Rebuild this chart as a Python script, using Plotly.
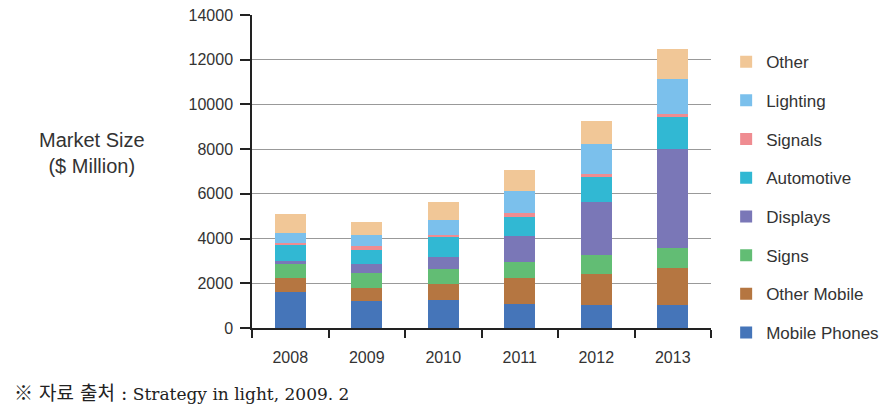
import plotly.graph_objects as go

# years on the x axis
years = ["2008", "2009", "2010", "2011", "2012", "2013"]

# market size per segment, $ million
mobile_phones = [1610, 1210, 1250, 1070, 1030, 1030]
other_mobile = [625, 580, 715, 1160, 1385, 1655]
signs = [625, 670, 670, 715, 850, 895]
displays = [135, 400, 535, 1160, 2370, 4425]
automotive = [715, 640, 880, 850, 1120, 1430]
signals = [90, 165, 90, 180, 135, 150]
lighting = [445, 490, 685, 985, 1340, 1550]
other = [850, 580, 805, 940, 1030, 1340]

series = [
    ("Mobile Phones", mobile_phones, "#4575b9"),
    ("Other Mobile", other_mobile, "#b57641"),
    ("Signs", signs, "#62bd74"),
    ("Displays", displays, "#7a77b7"),
    ("Automotive", automotive, "#31b8d3"),
    ("Signals", signals, "#ef8c91"),
    ("Lighting", lighting, "#7bc0ec"),
    ("Other", other, "#f1c797"),
]

fig = go.Figure()
for i, (name, vals, color) in enumerate(series):
    fig.add_trace(go.Bar(
        x=years, y=vals, name=name, legendgroup=name,
        legendrank=1000 - i,  # top of stack first in legend
        marker=dict(color=color, line=dict(width=0)),
    ))

fig.update_layout(
    barmode="stack",
    bargap=0.595,
    width=890, height=415,
    margin=dict(l=252, r=179, t=15, b=87, autoexpand=False),
    paper_bgcolor="white", plot_bgcolor="white",
    font=dict(family="Liberation Sans, Arial, sans-serif", color="#333333"),
    showlegend=True,
    legend=dict(
        traceorder="grouped",
        tracegroupgap=13.6,
        x=1.033, xanchor="left",
        y=0.907, yanchor="top",
        font=dict(family="Liberation Sans, Arial, sans-serif", size=17, color="#333333"),
        bgcolor="rgba(0,0,0,0)",
    ),
)

fig.update_xaxes(
    type="category",
    showline=True, linecolor="#222222", linewidth=1.5,
    ticks="outside", tickson="boundaries", ticklen=8, tickcolor="#222222", tickwidth=1.5,
    ticklabelstandoff=14,
    tickfont=dict(size=16, color="#333333"),
    showgrid=False, mirror=False,
)

fig.update_yaxes(
    range=[0, 14000], dtick=2000, tickformat="d",
    showline=True, linecolor="#222222", linewidth=1.5,
    ticks="outside", ticklen=10, tickcolor="#222222", tickwidth=1.5,
    ticklabelstandoff=4,
    tickfont=dict(size=16, color="#333333"),
    showgrid=True, gridcolor="#999999", gridwidth=1.2,
    zeroline=False,
)

fig.add_annotation(
    text="Market Size<br>($ Million)",
    xref="paper", yref="paper",
    x=(92 - 252) / 459, y=(328 - 153) / 313,
    xanchor="center", yanchor="middle",
    showarrow=False,
    font=dict(family="Liberation Sans, Arial, sans-serif", size=20, color="#333333"),
)

fig.add_annotation(
    text=("<span style='font-size:19px'>※ 자료 출처 :</span>"
          " Strategy in light, 2009. 2"),
    xref="paper", yref="paper",
    x=(12 - 252) / 459, y=(328 - 393) / 313,
    xanchor="left", yanchor="middle",
    showarrow=False,
    font=dict(family="DejaVu Serif, Noto Sans CJK KR, serif", size=17, color="#222222"),
)

# page body has an 8px default margin; drop it so the figure sits at 0,0
fig.write_html("out.html", config={"displayModeBar": False},
               post_script="document.body.style.margin='0';")
